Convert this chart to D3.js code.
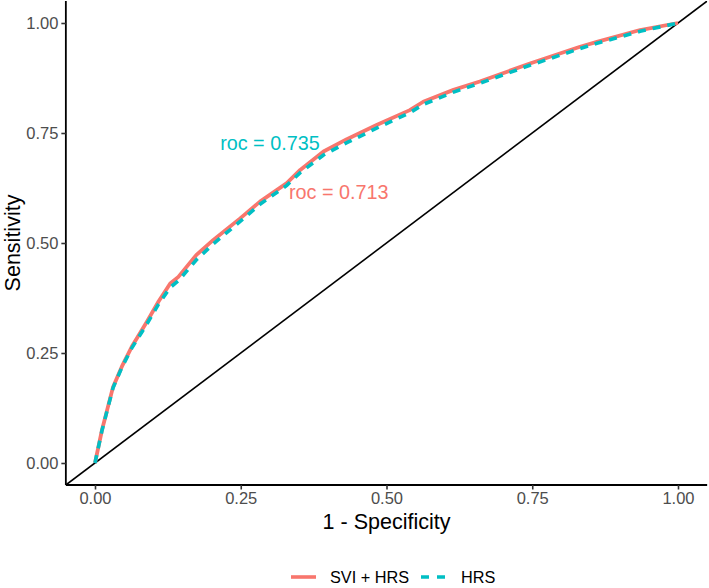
<!DOCTYPE html>
<html><head><meta charset="utf-8">
<script src="https://cdn.jsdelivr.net/npm/d3@7"></script>
<style>body{margin:0;background:#fff}svg{display:block}text{font-family:"Liberation Sans",Arial,sans-serif}</style>
</head><body><svg id="c" width="709" height="588"></svg>
<script>
const fprSVI = [0,0.012,0.031,0.046,0.063,0.089,0.109,0.129,0.143,0.174,0.203,0.249,0.283,0.329,0.352,0.392,0.432,0.483,0.540,0.563,0.615,0.660,0.746,0.832,0.861,0.935,1];
const tprSVI = [0,0.075,0.173,0.219,0.264,0.321,0.367,0.408,0.423,0.473,0.507,0.556,0.594,0.636,0.666,0.708,0.736,0.768,0.802,0.821,0.848,0.867,0.908,0.946,0.957,0.984,1];
const fprHRS = [0,0.012,0.031,0.046,0.063,0.089,0.109,0.129,0.143,0.174,0.203,0.249,0.283,0.329,0.352,0.392,0.432,0.483,0.540,0.563,0.615,0.660,0.746,0.832,0.861,0.935,1];
const tprHRS = [0,0.074,0.171,0.217,0.261,0.316,0.361,0.399,0.414,0.462,0.498,0.549,0.588,0.631,0.660,0.700,0.728,0.761,0.796,0.815,0.843,0.863,0.904,0.942,0.954,0.981,1];
const seriesNames = ["SVI + HRS","HRS"];
const seriesColors = ["#F8766D","#00BFC4"];
const ticks = [0,0.25,0.5,0.75,1];
const labels = [{text:"roc = 0.735",x:0.30,y:0.727,c:1},{text:"roc = 0.713",x:0.418,y:0.616,c:0}];

const svg = d3.select("#c");
const x = d3.scaleLinear().domain([-0.05,1.05]).range([65.85,707.15]);
const y = d3.scaleLinear().domain([-0.05,1.05]).range([485,1]);

svg.append("defs").append("clipPath").attr("id","clip").append("rect")
  .attr("x",x(-0.05)).attr("y",y(1.05)).attr("width",x(1.05)-x(-0.05)).attr("height",y(-0.05)-y(1.05));

const g = svg.append("g").attr("clip-path","url(#clip)");
g.append("line").attr("x1",x(-0.05)).attr("y1",y(-0.05)).attr("x2",x(1.05)).attr("y2",y(1.05))
  .attr("stroke","#000").attr("stroke-width",1.6);

const line = d3.line().x(d=>x(d[0])).y(d=>y(d[1]));
const data = [d3.zip(fprSVI,tprSVI), d3.zip(fprHRS,tprHRS)];
g.append("path").datum(data[0]).attr("d",line).attr("fill","none").attr("stroke",seriesColors[0]).attr("stroke-width",3.8).attr("stroke-linejoin","round");
g.append("path").datum(data[1]).attr("d",line).attr("fill","none").attr("stroke",seriesColors[1]).attr("stroke-width",3.6).attr("stroke-dasharray","8,7");

labels.forEach(l=>{
  svg.append("text").attr("x",x(l.x)).attr("y",y(l.y)).attr("text-anchor","middle").attr("dy","0.35em")
    .attr("font-size",19.8).attr("fill",seriesColors[l.c]).text(l.text);
});

const fmt = d3.format(".2f");
const xa = svg.append("g").attr("transform",`translate(0,${y(-0.05)})`)
  .call(d3.axisBottom(x).tickValues(ticks).tickFormat(fmt).tickSize(4.5).tickPadding(3));
const ya = svg.append("g").attr("transform",`translate(${x(-0.05)},0)`)
  .call(d3.axisLeft(y).tickValues(ticks).tickFormat(fmt).tickSize(4.5).tickPadding(3));
[xa,ya].forEach(a=>{
  a.select(".domain").attr("stroke","#000").attr("stroke-width",1.8);
  a.selectAll(".tick line").attr("stroke","#333").attr("stroke-width",1.6);
  a.selectAll(".tick text").attr("fill","#4D4D4D").attr("font-size",16.5).attr("font-family","Liberation Sans,Arial,sans-serif");
});
xa.select(".domain").attr("d",`M${x(-0.05)},0H${x(1.05)}`);
ya.select(".domain").attr("d",`M0,${y(-0.05)}V${y(1.05)}`);

svg.append("text").attr("x",(x(-0.05)+x(1.05))/2).attr("y",529).attr("text-anchor","middle")
  .attr("font-size",21.5).attr("fill","#000").text("1 - Specificity");
svg.append("text").attr("transform",`translate(20,${(y(-0.05)+y(1.05))/2}) rotate(-90)`).attr("text-anchor","middle")
  .attr("font-size",21.5).attr("fill","#000").text("Sensitivity");

// legend
const lg = svg.append("g").attr("transform","translate(0,577)");
const items = [{x0:291,tx:330},{x0:421,tx:461}];
items.forEach((it,i)=>{
  lg.append("line").attr("x1",it.x0).attr("x2",it.x0+25).attr("y1",0).attr("y2",0)
    .attr("stroke",seriesColors[i]).attr("stroke-width",3.6).attr("stroke-dasharray",i?"8,8":null);
  lg.append("text").attr("x",it.tx).attr("y",0).attr("dy","0.35em").attr("font-size",16.3).attr("fill","#000").text(seriesNames[i]);
});
</script></body></html>
